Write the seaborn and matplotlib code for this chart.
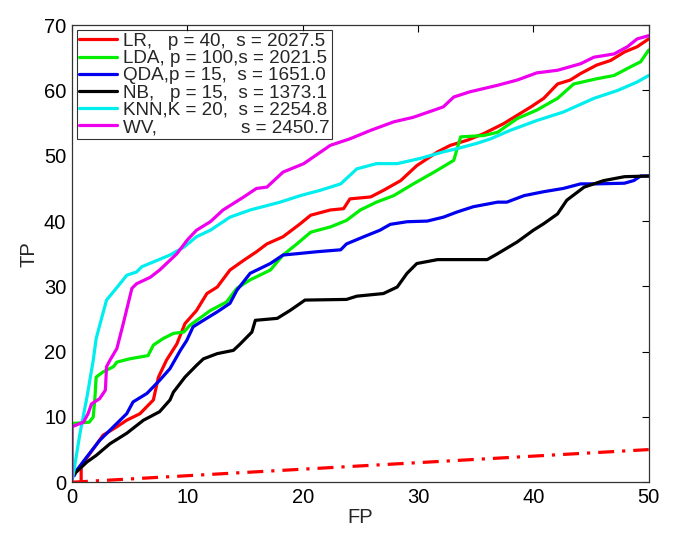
import matplotlib
matplotlib.use("Agg")
import matplotlib.pyplot as plt
import seaborn as sns
import pandas as pd

# ---- data ----
lr_x = [0.8, 0.8, 1.56, 2.7, 3.9, 4.75, 5.9, 7.06, 7.5, 8.2, 9.1, 9.8, 10.8, 11.7, 12.6, 13.7, 14.9, 16.0, 16.9, 18.3,
        19.8, 20.7, 22.4, 23.55, 24.1, 25.9, 27.0, 28.5, 29.9, 31.7, 32.8, 34.3, 35.7, 37.4, 39.8, 40.9, 42.1, 43.2,
        44.1, 45.5, 46.7, 47.9, 49.0, 50.0]
lr_y = [0, 2.5, 4.4, 7.2, 8.5, 9.5, 10.5, 12.6, 16.1, 18.7, 21.2, 24.3, 26.3, 28.9, 29.9, 32.5, 34.0, 35.3, 36.5, 37.6,
        39.6, 40.9, 41.7, 41.9, 43.4, 43.7, 44.7, 46.2, 48.5, 50.6, 51.6, 52.4, 53.4, 54.9, 57.5, 58.8, 61.0, 61.6,
        62.6, 63.9, 64.6, 65.9, 66.7, 67.9]

lda_x = [0, 0, 1.5, 1.85, 2.0, 2.1, 2.7, 3.6, 3.9, 5.0, 6.6, 7.06, 7.9, 8.8, 9.7, 10.2, 12.0, 13.4, 14.3, 15.45, 17.2,
         18.3, 19.5, 20.7, 22.4, 23.8, 25.0, 26.4, 27.9, 29.6, 31.4, 33.1, 33.7, 35.7, 36.9, 38.6, 40.3, 42.1, 43.5,
         45.5, 47.0, 48.4, 49.3, 50]
lda_y = [0, 9.0, 9.2, 10, 13.1, 16.1, 16.9, 17.7, 18.4, 18.9, 19.4, 21, 22, 22.8, 23, 24, 26.3, 27.6, 29.7, 31.0, 32.5,
         34.8, 36.5, 38.3, 39.1, 40.1, 41.7, 42.9, 43.9, 45.7, 47.5, 49.3, 52.9, 53.1, 53.6, 55.7, 57.0, 58.8, 61.0,
         61.8, 62.3, 63.6, 64.4, 66.2]

qda_x = [0.2, 0.4, 1.3, 2.4, 3.6, 4.75, 5.3, 6.5, 7.6, 8.5, 9.4, 9.95, 10.5, 11.4, 12.6, 13.7, 14.3, 15.45, 17.2, 18.3,
         19.5, 21.2, 23.3, 23.8, 25.3, 26.7, 27.6, 29.05, 30.8, 32.2, 33.4, 34.8, 36.9, 37.7, 39.2, 40.9, 42.6, 44.1,
         45.5, 47.9, 48.7, 49.3, 50]
qda_y = [1.0, 1.8, 3.9, 6.4, 8.5, 10.5, 12.3, 13.6, 15.6, 17.4, 20.2, 21.7, 23.8, 24.8, 26.1, 27.4, 29.4, 32.0, 33.5,
         34.8, 35.0, 35.3, 35.6, 36.5, 37.6, 38.6, 39.5, 39.9, 40.0, 40.6, 41.4, 42.2, 42.9, 42.9, 43.9, 44.5, 45.0,
         45.7, 45.7, 45.8, 46.2, 46.9, 46.9]

nb_x = [0.1, 0.4, 1.3, 2.1, 3.3, 4.75, 6.2, 7.6, 8.5, 8.8, 9.8, 10.8, 11.4, 12.6, 14.0, 14.6, 15.6, 15.9, 17.8, 18.9,
        19.8, 20.2, 23.8, 24.7, 27.0, 28.2, 29.05, 29.9, 31.7, 36.0, 36.9, 38.6, 40.0, 40.9, 42.1, 42.9, 44.4, 46.1,
        47.9, 50]
nb_y = [1.1, 1.6, 3.1, 4.1, 5.9, 7.5, 9.5, 10.8, 12.6, 13.8, 16.1, 17.9, 18.9, 19.7, 20.2, 21.2, 23.0, 24.8, 25.1,
        26.3, 27.4, 27.9, 28.0, 28.5, 28.9, 29.9, 32.0, 33.5, 34.1, 34.1, 35.0, 36.8, 38.6, 39.6, 41.1, 43.2, 45.2,
        46.2, 46.8, 46.9]

knn_x = [0, 0.1, 0.7, 1.3, 1.85, 2.1, 2.6, 3.0, 3.7, 4.3, 4.75, 5.6, 6.05, 7.0, 8.5, 9.7, 10.8, 12.0, 13.7, 15.45,
         18.05, 19.8, 21.5, 23.3, 24.7, 26.4, 28.2, 30.2, 32.2, 33.4, 35.1, 36.3, 38.0, 40.3, 42.6, 45.25, 47.3, 49.0,
         50]
knn_y = [0, 1, 7.5, 13, 18.7, 22, 25.3, 27.9, 29.4, 30.7, 31.7, 32.2, 33, 33.7, 34.8, 36.0, 37.6, 38.6, 40.6, 41.7,
         42.9, 43.9, 44.7, 45.7, 48.0, 48.8, 48.8, 49.6, 50.6, 51.1, 51.9, 52.6, 53.9, 55.4, 56.7, 58.8, 60.0, 61.3,
         62.3]

wv_x = [0, 0, 1.0, 1.4, 1.7, 2.4, 2.9, 3.0, 3.3, 3.9, 4.45, 5.2, 5.6, 6.8, 7.6, 8.2, 9.1, 10.0, 10.8, 12.0, 13.1, 14.0,
        14.9, 16.0, 16.9, 18.3, 20.1, 22.4, 24.1, 25.9, 27.9, 29.6, 31.4, 32.2, 33.1, 34.5, 36.9, 38.6, 40.3, 42.1,
        44.1, 45.25, 47.0, 48.15, 49.0, 50]
wv_y = [0, 8.5, 9.2, 10.5, 12, 12.8, 14.1, 17.7, 18.7, 20.5, 24.3, 29.7, 30.4, 31.4, 32.5, 33.5, 35, 37.1, 38.6, 39.9,
        41.7, 42.7, 43.7, 45.0, 45.2, 47.5, 48.8, 51.6, 52.6, 53.9, 55.2, 55.9, 57.0, 57.5, 59.0, 59.8, 60.8, 61.6,
        62.7, 63.1, 64.1, 65.1, 65.6, 66.7, 67.9, 68.4]

rand_x = [0, 50]
rand_y = [0, 5]

labels = ["LR,   p = 40,  s = 2027.5",
          "LDA, p = 100,s = 2021.5",
          "QDA,p = 15,  s = 1651.0",
          "NB,   p = 15,  s = 1373.1",
          "KNN,K = 20,  s = 2254.8",
          "WV,                s = 2450.7"]
colors = ["#ff0000", "#00ee00", "#0000ee", "#000000", "#00eeee", "#ee00ee"]

xticks = [0, 10, 20, 30, 40, 50]
yticks = [0, 10, 20, 30, 40, 50, 60, 70]

series = [(lr_x, lr_y), (lda_x, lda_y), (qda_x, qda_y), (nb_x, nb_y), (knn_x, knn_y), (wv_x, wv_y)]

sns.set_style("white")
plt.rcParams['font.family'] = ['Liberation Sans', 'DejaVu Sans']

fig = plt.figure(figsize=(6.85, 5.48), dpi=100)
ax = fig.add_axes([0.105, 0.12, 0.842, 0.834])

for (xs, ys), lab, col in zip(series, labels, colors):
    df = pd.DataFrame({"FP": xs, "TP": ys})
    sns.lineplot(data=df, x="FP", y="TP", ax=ax, sort=False, estimator=None,
                 color=col, linewidth=2.3, label=lab)

df_r = pd.DataFrame({"FP": rand_x, "TP": rand_y})
sns.lineplot(data=df_r, x="FP", y="TP", ax=ax, sort=False, estimator=None,
             color="#ff0000", linewidth=2.3, linestyle=(0, (5, 2.5, 1, 2.5)), legend=False)

ax.set_xlim(0, 50)
ax.set_ylim(0, 70)
ax.set_xticks(xticks)
ax.set_yticks(yticks)
ax.tick_params(direction="in", length=5, width=0.8, top=True, right=True,
               labelsize=14.5, colors="black", pad=4)
for s in ax.spines.values():
    s.set_visible(True)
    s.set_color("#333333")
    s.set_linewidth(0.9)
ax.set_xlabel("FP", fontsize=14.5, labelpad=1)
ax.set_ylabel("TP", fontsize=14.5, labelpad=4)

leg = ax.legend(loc="upper left", fontsize=13.6, frameon=True, fancybox=False,
                edgecolor="black", handlelength=2.0, handletextpad=0.3,
                labelspacing=0.0, borderpad=0.15, borderaxespad=0.25)
leg.get_frame().set_linewidth(0.8)

fig.savefig("out.png", dpi=100)
